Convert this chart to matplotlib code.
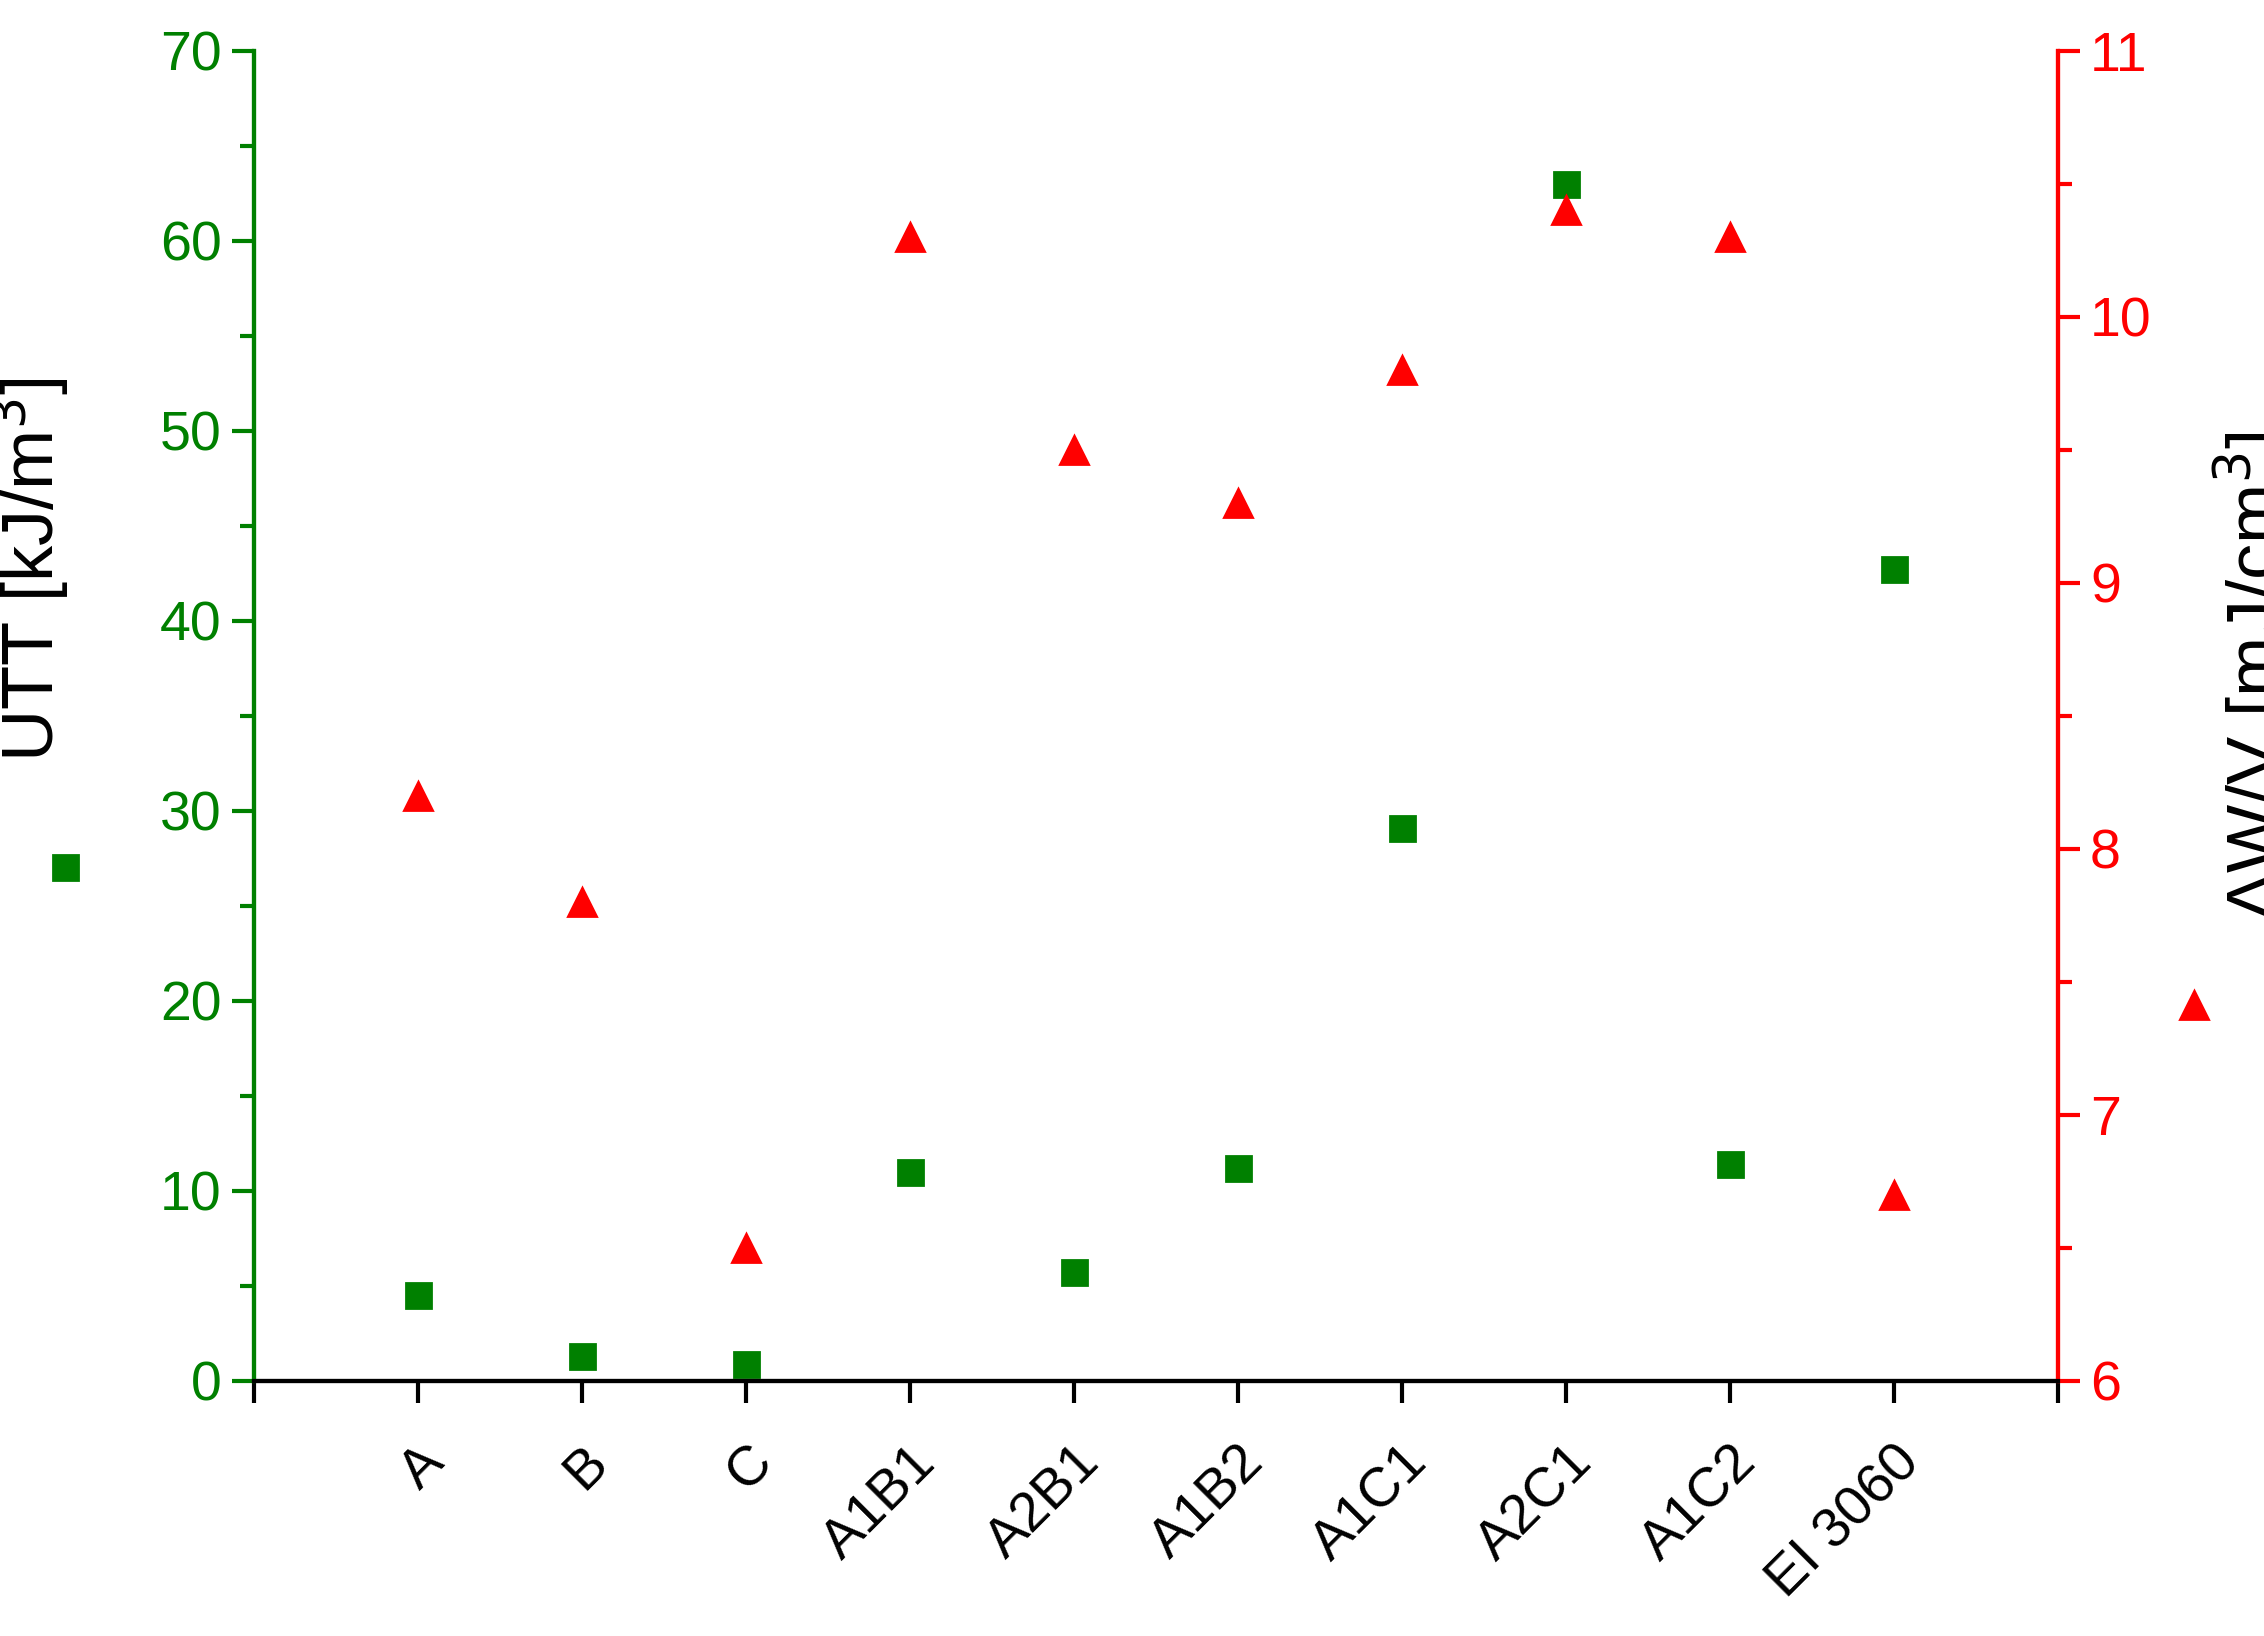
import matplotlib
matplotlib.use("Agg")
import matplotlib.pyplot as plt
from matplotlib.lines import Line2D
from matplotlib.ticker import MultipleLocator

plt.rcParams["font.family"] = ["Liberation Sans", "DejaVu Sans"]

samples = ["A", "B", "C", "A1B1", "A2B1", "A1B2", "A1C1", "A2C1", "A1C2", "EI 3060"]
utt = [4.5, 1.3, 0.9, 11.0, 5.7, 11.2, 29.1, 63.0, 11.4, 42.7]
dwv = [8.2, 7.8, 6.5, 10.3, 9.5, 9.3, 9.8, 10.4, 10.3, 6.7]

GREEN = "#008000"
RED = "#ff0000"

fig = plt.figure(figsize=(11.32, 8.18), dpi=200)
ax = fig.add_axes([0.112, 0.156, 0.797, 0.813])
ax2 = ax.twinx()

x = list(range(len(samples)))
ax.plot(x, utt, "s", color=GREEN, ms=9, ls="none")
ax2.plot(x, dwv, "^", color=RED, ms=10, ls="none")

ax.set_xlim(-1, 10)
ax.set_xticks(range(-1, 11))
ax.set_xticklabels([""] + samples + [""], rotation=45, ha="right",
                   rotation_mode="anchor", fontsize=20)
ax.tick_params(axis="x", length=8, width=1.5, pad=12)

ax.set_ylim(0, 70)
ax.yaxis.set_major_locator(MultipleLocator(10))
ax.yaxis.set_minor_locator(MultipleLocator(5))
ax.tick_params(axis="y", which="major", colors=GREEN, length=8, width=1.5, labelsize=20)
ax.tick_params(axis="y", which="minor", colors=GREEN, length=5, width=1.5)
ax.set_ylabel("UTT [kJ/m$^3$]", fontsize=26)
ax.yaxis.set_label_coords(-0.1, 0.61)

ax2.set_ylim(6, 11)
ax2.yaxis.set_major_locator(MultipleLocator(1))
ax2.yaxis.set_minor_locator(MultipleLocator(0.5))
ax2.tick_params(axis="y", which="major", colors=RED, length=8, width=1.5, labelsize=20)
ax2.tick_params(axis="y", which="minor", colors=RED, length=5, width=1.5)
ax2.set_ylabel("ΔW/V [mJ/cm$^3$]", fontsize=26)
ax2.yaxis.set_label_coords(1.085, 0.53)

for a in (ax, ax2):
    a.spines["top"].set_visible(False)
    a.spines["left"].set_color(GREEN)
    a.spines["right"].set_color(RED)
    a.spines["bottom"].set_color("black")
    for s in a.spines.values():
        s.set_linewidth(1.5)

fig.add_artist(Line2D([0.0287], [0.470], marker="s", color=GREEN, ms=9,
                      ls="none", transform=fig.transFigure))
fig.add_artist(Line2D([0.969], [0.386], marker="^", color=RED, ms=10,
                      ls="none", transform=fig.transFigure))

fig.savefig("out.png", dpi=200, facecolor="white")
